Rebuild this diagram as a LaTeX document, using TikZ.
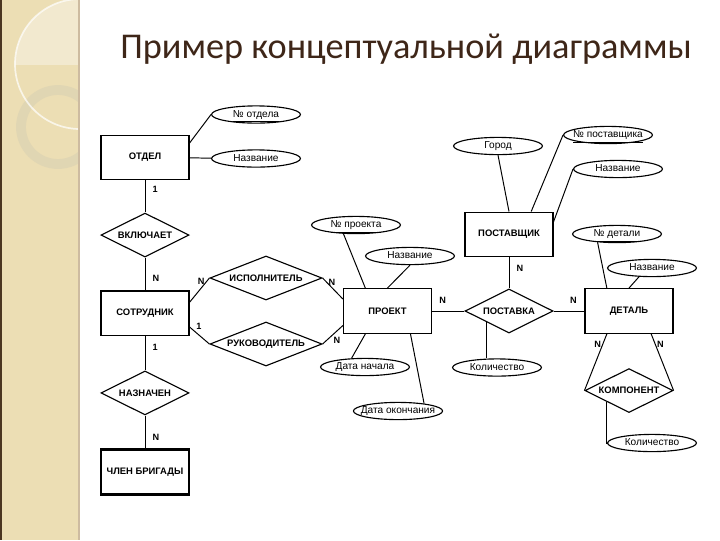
\documentclass[tikz,border=0pt]{standalone}
\usepackage{fontspec}
\setmainfont{Liberation Sans}
\newfontfamily\titlefont{Carlito}
\usepackage{xcolor}
\usetikzlibrary{positioning,calc,shapes.geometric}
\definecolor{CStrip}{HTML}{ECDEB4}
\definecolor{CEdge}{HTML}{4B3621}
\definecolor{CRim}{HTML}{CDBBA0}
\definecolor{CRing}{HTML}{E0D6B3}
\definecolor{CGlow}{HTML}{F2E9CF}
\definecolor{CTitle}{HTML}{3E2618}

\begin{document}
\begin{tikzpicture}[x=0.025cm, y=-0.025cm,
  every node/.style={font=\fontsize{7.2}{8}\selectfont},
  ent/.style ={draw, line width=0.8pt, minimum width=2.2cm, minimum height=1.12cm,
               font=\fontsize{6.7}{8}\selectfont\bfseries},
  rel/.style ={draw, diamond, aspect=2.5, inner sep=0pt, line width=0.8pt,
               minimum width=2.2cm, minimum height=1.1cm, font=\fontsize{6.7}{8}\selectfont\bfseries},
  attr/.style={draw, ellipse, inner xsep=-4pt, inner ysep=0pt, line width=0.8pt,
               text height=5.2pt, text depth=1.2pt,
               minimum width=2.22cm, minimum height=0.43cm},
  link/.style={line width=0.7pt},
  card/.style={inner sep=1pt, font=\fontsize{6.5}{7}\selectfont\bfseries}]
% page and side strip
\useasboundingbox (0,0) rectangle (720,540);
\fill[CStrip] (0,0) rectangle (79,540);
\begin{scope}
  \clip (0,0) rectangle (79,64);
  \fill[CGlow] (80,64) circle (65);
\end{scope}
\begin{scope}
  \clip (0,0) rectangle (79,540);
  \draw[CRing, line width=7pt] (58,127) circle (37);
  \draw[white, opacity=.7, line width=1.2pt] (80,64) circle (65);
\end{scope}
\fill[CEdge] (0,0) rectangle (2,540);
\draw[CRim, line width=.8pt] (79,0) -- (79,540);

\node[anchor=base west, inner sep=0, text=CTitle, font=\titlefont\fontsize{25.8}{30}\selectfont]
  (title) at (120,58) {Пример концептуальной диаграммы};

% entities and relationships
\node[ent] (otdel) at (145,157.5) {ОТДЕЛ};
\node[rel, below=0.8cm of otdel] (vkl) {ВКЛЮЧАЕТ};
\node[ent, below=0.82cm of vkl] (sotr) {СОТРУДНИК};
\node[rel, below=0.85cm of sotr] (nazn) {НАЗНАЧЕН};
\node[ent, line width=2pt, below=0.82cm of nazn] (brig) {ЧЛЕН БРИГАДЫ};
\node[rel, minimum width=2.8cm] (ispoln) at (266,278) {ИСПОЛНИТЕЛЬ};
\node[rel, minimum width=2.8cm] (ruk) at (266,344) {РУКОВОДИТЕЛЬ};
\node[ent] (proekt) at (387.5,311) {ПРОЕКТ};
\node[ent] (postav) at (509,234.5) {ПОСТАВЩИК};
\node[rel] (postavka) at (postav |- proekt) {ПОСТАВКА};
\node[ent] (detal) at (629,311) {ДЕТАЛЬ};
\node[rel, below=0.85cm of detal] (komp) {КОМПОНЕНТ};

% attributes
\node[attr] (anotdel) at (256,114.5) {\underline{№ отдела}};
\node[attr] (anazv1) at (256,158.5) {Название};
\node[attr] (anproekt) at (356,225) {\underline{№ проекта}};
\node[attr] (anazv2) at (410,256) {Название};
\node[attr] (agorod) at (498,146) {Город};
\node[attr] (anpost) at (608,135) {\underline{№ поставщика}};
\node[attr] (anazv3) at (618,169) {Название};
\node[attr] (andetal) at (617,234) {\underline{№ детали}};
\node[attr] (anazv4) at (652,268) {Название};
\node[attr] (akol1) at (497,367.5) {Количество};
\node[attr] (akol2) at (652,443) {Количество};
\node[attr] (adnach) at (365,367) {Дата начала};
\node[attr] (adokon) at (398,411) {Дата окончания};

% connectors
\draw[link] (otdel.18) -- (anotdel.west);
\draw[link] (otdel) -- (anazv1);
\draw[link] (otdel) -- node[card, right=4pt, pos=.28] {1} (vkl);
\draw[link] (vkl) -- node[card, right=4pt, pos=.64] {N} (sotr);
\draw[link] (sotr) -- node[card, right=4pt, pos=.32] {1} (nazn);
\draw[link] (nazn) -- node[card, right=4pt, pos=.67] {N} (brig);
\draw[link] (sotr.14) -- node[card, left, pos=.85] {N} (ispoln.west);
\draw[link] (ispoln.east) -- node[card, right, pos=.2] {N} (proekt.165);
\draw[link] (sotr.-17) -- node[card, above right, pos=.25] {1} (ruk.west);
\draw[link] (ruk.east) -- node[card, below right, pos=.45] {N} (proekt.-162);
\draw[link] (proekt) -- node[card, above=4pt, pos=.33] {N} (postavka);
\draw[link] (postavka) -- node[card, above=4pt, pos=.64] {N} (detal);
\draw[link] (postav) -- node[card, right=4pt, pos=.34] {N} (postavka);
\draw[link] (postavka.south west) -- (postavka.south west |- akol1.north);
\draw[link] (detal.-134) -- node[card, left, pos=.18] {N} (komp.west);
\draw[link] (detal.-46) -- node[card, right, pos=.18] {N} (komp.east);
\draw[link] (komp.south west) |- (akol2.west);
\draw[link] (andetal.-157) -- (detal.134);
\draw[link] (anazv4.-146) -- (detal.north);
\draw[link] (anproekt.-145) -- (proekt.134);
\draw[link] (anazv2.south) -- (proekt.north);
\draw[link] (agorod.south) -- (postav.north);
\draw[link] (anpost.west) -- (postav.46);
\draw[link] (anazv3.west) -- (postav.16);
\draw[link] (proekt.-134) -- (adnach.147);
\draw[link] (proekt.-45) -- (adokon.16);
\end{tikzpicture}
\end{document}
